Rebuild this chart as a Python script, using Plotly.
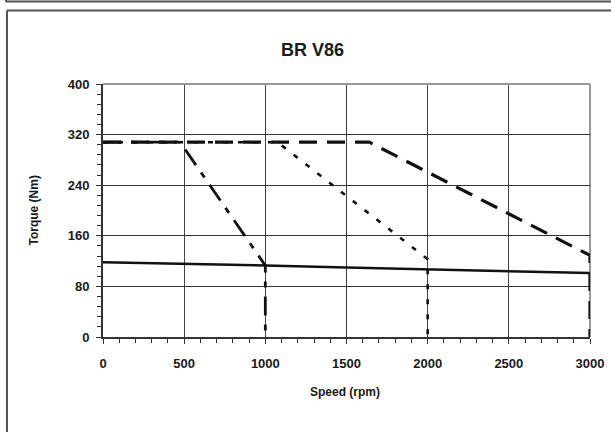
import plotly.graph_objects as go

# Torque/speed characteristics of the BR V86 motor
speed_continuous = [0, 500, 1000, 1500, 2000, 2500, 3000]
torque_continuous = [118, 116, 113, 110, 107, 104, 101]

speed_1000 = [0, 475, 1000, 1000]
torque_1000 = [308, 308, 113, 0]

speed_2000 = [0, 1075, 2000, 2000]
torque_2000 = [308, 308, 123, 0]

speed_3000 = [0, 1640, 3000, 3000]
torque_3000 = [308, 308, 129, 0]

x_ticks = [0, 500, 1000, 1500, 2000, 2500, 3000]
y_ticks = [0, 80, 160, 240, 320, 400]

W, H = 611, 432
L, R, T, B = 103, 590, 84, 337  # plot area in pixels

def px(x):
    return (x - L) / (R - L)

def py(y):
    return (B - y) / (B - T)

FONT = "Liberation Sans, Arial"

fig = go.Figure()

fig.add_trace(go.Scatter(x=speed_3000, y=torque_3000, mode="lines",
                         line=dict(color="#111", width=3.2, dash="18px,10px")))
fig.add_trace(go.Scatter(x=speed_2000, y=torque_2000, mode="lines",
                         line=dict(color="#111", width=2.6, dash="5px,10px")))
fig.add_trace(go.Scatter(x=speed_1000, y=torque_1000, mode="lines",
                         line=dict(color="#111", width=2.8, dash="19px,9px,6px,9px")))
fig.add_trace(go.Scatter(x=speed_continuous, y=torque_continuous, mode="lines",
                         line=dict(color="#111", width=2.5)))

fig.update_layout(
    width=W, height=H, autosize=False,
    margin=dict(l=L, r=W - R, t=T, b=H - B, autoexpand=False),
    paper_bgcolor="white", plot_bgcolor="white",
    showlegend=False,
    font=dict(family=FONT, color="#1a1a1a"),
)

fig.update_xaxes(
    range=[0, 3000], tickvals=x_ticks, ticktext=[str(v) for v in x_ticks],
    showgrid=True, gridcolor="#444", gridwidth=1,
    showline=True, linecolor="#333", linewidth=2,
    ticks="outside", ticklen=5, tickwidth=1, tickcolor="#333",
    ticklabelstandoff=8, automargin=False,
    minor=dict(dtick=100, ticks="outside", ticklen=4, tickcolor="#333", showgrid=False),
    tickfont=dict(family=FONT, size=13, color="#1a1a1a", weight="bold"),
    zeroline=False,
)
fig.update_yaxes(
    range=[0, 400], tickvals=y_ticks, ticktext=[str(v) for v in y_ticks],
    showgrid=True, gridcolor="#333", gridwidth=1,
    showline=True, linecolor="#333", linewidth=2,
    ticks="outside", ticklen=5, tickwidth=1, tickcolor="#333",
    ticklabelstandoff=4, automargin=False,
    minor=dict(dtick=16, ticks="outside", ticklen=4, tickcolor="#333", showgrid=False),
    tickfont=dict(family=FONT, size=13, color="#1a1a1a", weight="bold"),
    zeroline=False,
)

shapes = [
    # top and right borders of the plot area
    dict(type="line", xref="paper", yref="paper", x0=0, x1=1, y0=1, y1=1,
         line=dict(color="#999", width=2)),
    dict(type="line", xref="paper", yref="paper", x0=1, x1=1, y0=0, y1=1,
         line=dict(color="#999", width=2), layer="below"),
    # outer frame lines
    dict(type="line", xref="paper", yref="paper", x0=px(6), x1=px(611), y0=py(1.5), y1=py(1.5),
         line=dict(color="#555", width=2)),
    dict(type="line", xref="paper", yref="paper", x0=px(6), x1=px(6), y0=py(0), y1=py(2),
         line=dict(color="#555", width=2)),
    dict(type="line", xref="paper", yref="paper", x0=px(7), x1=px(611), y0=py(10.5), y1=py(10.5),
         line=dict(color="#555", width=2)),
    dict(type="line", xref="paper", yref="paper", x0=px(7), x1=px(7), y0=py(10.5), y1=py(432),
         line=dict(color="#555", width=2)),
]
fig.update_layout(shapes=shapes)

fig.add_annotation(text="<b>BR V86</b>", xref="paper", yref="paper",
                   x=px(312), y=py(50), showarrow=False,
                   font=dict(family=FONT, size=18, color="#1a1a1a"),
                   xanchor="center", yanchor="middle")
fig.add_annotation(text="<b>Speed (rpm)</b>", xref="paper", yref="paper",
                   x=px(345), y=py(392), showarrow=False,
                   font=dict(family=FONT, size=12, color="#1a1a1a"),
                   xanchor="center", yanchor="middle")
fig.add_annotation(text="<b>Torque (Nm)</b>", xref="paper", yref="paper",
                   x=px(33), y=0.5, showarrow=False, textangle=-90,
                   font=dict(family=FONT, size=12, color="#1a1a1a"),
                   xanchor="center", yanchor="middle")

# keep the page exactly one figure in size, without scrollbars
page_style = (
    "var s=document.createElement('style');"
    "s.textContent='html,body{margin:0;padding:0;overflow:hidden!important;"
    "height:432px;scrollbar-width:none}::-webkit-scrollbar{display:none;width:0;height:0}';"
    "document.head.appendChild(s);window.scrollTo(0,0);"
)

fig.write_html(
    "out.html",
    config={"responsive": False, "displayModeBar": False},
    post_script=page_style,
)
